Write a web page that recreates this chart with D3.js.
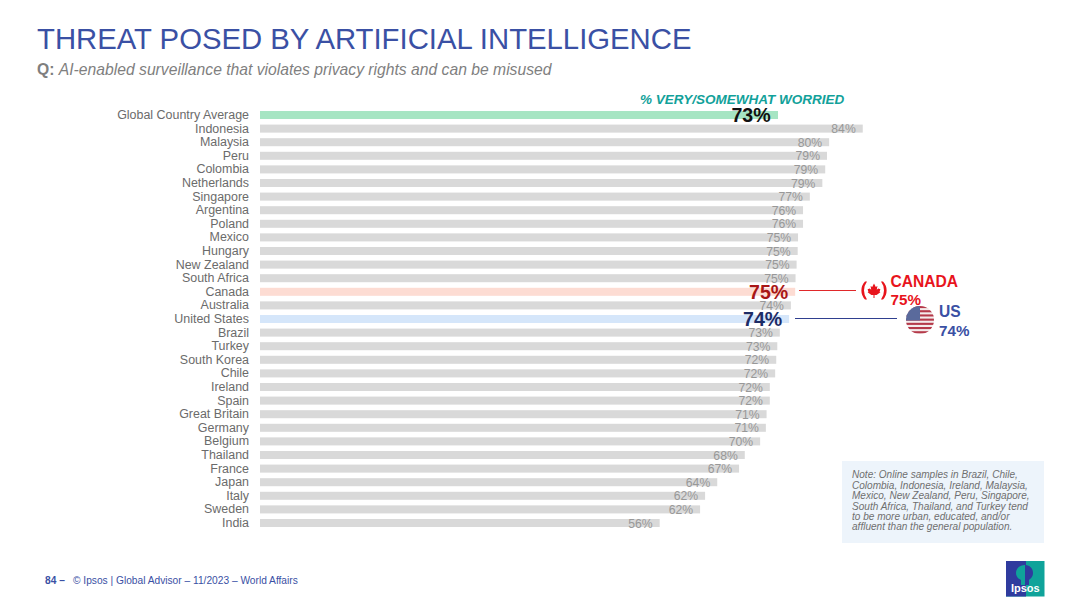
<!DOCTYPE html>
<html>
<head>
<meta charset="utf-8">
<script src="https://cdn.jsdelivr.net/npm/d3@7"></script>
<style>
  html, body { margin: 0; padding: 0; background: #fff; }
  svg { display: block; }
  text { font-family: "Liberation Sans", Arial, sans-serif; }
</style>
</head>
<body>
<svg id="chart" width="1080" height="607"></svg>
<script>
const countries = ["Global Country Average", "Indonesia", "Malaysia", "Peru", "Colombia", "Netherlands", "Singapore", "Argentina", "Poland", "Mexico", "Hungary", "New Zealand", "South Africa", "Canada", "Australia", "United States", "Brazil", "Turkey", "South Korea", "Chile", "Ireland", "Spain", "Great Britain", "Germany", "Belgium", "Thailand", "France", "Japan", "Italy", "Sweden", "India"];
// bar lengths, the printed labels are rounded differently
const worried = [72.45, 84.3, 79.6, 79.3, 79.05, 78.65, 76.9, 75.95, 75.95, 75.25, 75.2, 75.05, 74.9, 74.85, 74.25, 74.0, 72.7, 72.35, 72.2, 72.05, 71.3, 71.3, 70.85, 70.75, 69.95, 67.8, 67.0, 63.95, 62.25, 61.55, 55.9];
const printed = [73, 84, 80, 79, 79, 79, 77, 76, 76, 75, 75, 75, 75, 75, 74, 74, 73, 73, 72, 72, 72, 72, 71, 71, 70, 68, 67, 64, 62, 62, 56];
const noteLines = ["Note: Online samples in Brazil, Chile,", "Colombia, Indonesia, Ireland, Malaysia,", "Mexico, New Zealand, Peru, Singapore,", "South Africa, Thailand, and Turkey tend", "to be more urban, educated, and/or", "affluent than the general population."];

const svg = d3.select("#chart");
const blue = "#3a50a4";

const x = d3.scaleLinear().domain([0, 100]).range([260, 975]);
const y = d3.scaleBand().domain(countries).range([108.2, 529.8]).paddingInner(0.41).paddingOuter(0.205);

const barColor = {"Global Country Average": "#a6e5c3", "Canada": "#fddcd3", "United States": "#d5e6fa"};
const bigLabel = {"Global Country Average": "#111111", "Canada": "#a81616", "United States": "#1d2c66"};
const bigRight = {"Global Country Average": 770.7, "Canada": 788.3, "United States": 782.3};

function text(px, py, str, size, color, opts = {}) {
    return svg.append("text")
        .attr("x", px).attr("y", py)
        .attr("font-size", size)
        .attr("fill", color)
        .attr("font-weight", opts.weight || "normal")
        .attr("font-style", opts.style || "normal")
        .attr("text-anchor", opts.anchor || "start")
        .text(str);
}

// header
text(37, 49, "THREAT POSED BY ARTIFICIAL INTELLIGENCE", 29.3, blue);
const sub = text(37, 75, "", 15.7, "#7f7f7f");
sub.append("tspan").attr("font-weight", "bold").text("Q: ");
sub.append("tspan").attr("font-style", "italic").text("AI-enabled surveillance that violates privacy rights and can be misused");
text(640, 103.5, "% VERY/SOMEWHAT WORRIED", 13.5, "#12a19a", {weight: "bold", style: "italic"});

// bars
svg.selectAll("rect.bar")
    .data(countries)
    .join("rect")
    .attr("class", "bar")
    .attr("x", x(0))
    .attr("y", d => y(d))
    .attr("width", (d, i) => x(worried[i]) - x(0))
    .attr("height", y.bandwidth())
    .attr("fill", d => barColor[d] || "#d9d9d9");

// country names
const axis = svg.append("g")
    .attr("transform", "translate(249,0)")
    .call(d3.axisLeft(y).tickSize(0).tickPadding(0));
axis.select(".domain").remove();
axis.selectAll("text")
    .attr("font-size", 12.45)
    .attr("fill", "#6b6b6b")
    .style("font-family", '"Liberation Sans", Arial, sans-serif');

// value labels
svg.selectAll("text.val")
    .data(countries)
    .join("text")
    .attr("class", "val")
    .attr("text-anchor", "end")
    .attr("x", (d, i) => bigLabel[d] ? bigRight[d] : x(worried[i]) - 7)
    .attr("y", d => y(d) + y.bandwidth() / 2 + (bigLabel[d] ? 7 : 4.6))
    .attr("font-size", d => bigLabel[d] ? 19.6 : 12.2)
    .attr("font-weight", d => bigLabel[d] ? "bold" : "normal")
    .attr("fill", d => bigLabel[d] || "#989898")
    .text((d, i) => printed[i] + "%");

// canada callout
svg.append("line").attr("x1", 799).attr("x2", 856).attr("y1", 290.5).attr("y2", 290.5)
    .attr("stroke", "#e0282a").attr("stroke-width", 1.2);
const ca = svg.append("g").attr("transform", "translate(874,290.5)").attr("fill", "#e8141c");
ca.append("path").attr("d", "M-9,-9 A13,13 0 0 0 -9,9 L-7,9 A15,15 0 0 1 -7,-9 Z");
ca.append("path").attr("d", "M9,-9 A13,13 0 0 1 9,9 L7,9 A15,15 0 0 0 7,-9 Z");
ca.append("path").attr("d", "M0,-7 L1.8,-3.6 L3.4,-4.4 L2.8,-0.8 L4.2,-2 L6.4,-1.2 L5.6,1.2 L6.4,1.8 L2.6,4.6 L0.5,4.4 L0.5,7.4 L-0.5,7.4 L-0.5,4.4 L-2.6,4.6 L-6.4,1.8 L-5.6,1.2 L-6.4,-1.2 L-4.2,-2 L-2.8,-0.8 L-3.4,-4.4 L-1.8,-3.6 Z");
text(890.5, 287, "CANADA", 15.6, "#e8141c", {weight: "bold"});
text(890.5, 305, "75%", 15.2, "#e8141c", {weight: "bold"});

// us callout
svg.append("line").attr("x1", 795).attr("x2", 897).attr("y1", 318.5).attr("y2", 318.5)
    .attr("stroke", "#2f3f8f").attr("stroke-width", 1.2);
svg.append("clipPath").attr("id", "usClip").append("circle").attr("cx", 920).attr("cy", 320).attr("r", 14);
const us = svg.append("g").attr("clip-path", "url(#usClip)");
us.append("rect").attr("x", 906).attr("y", 306).attr("width", 28).attr("height", 28).attr("fill", "#f4ecec");
d3.range(7).forEach(i => {
    us.append("rect").attr("x", 906).attr("y", 306 + i * 4.2).attr("width", 28).attr("height", 2.1).attr("fill", "#b53a4a");
});
us.append("rect").attr("x", 906).attr("y", 306).attr("width", 14).attr("height", 14.5).attr("fill", "#5a6a9c");
text(939, 317, "US", 15.6, blue, {weight: "bold"});
text(939, 335.5, "74%", 15.2, blue, {weight: "bold"});

// note box
svg.append("rect").attr("x", 842).attr("y", 461).attr("width", 202).attr("height", 82).attr("fill", "#edf4fb");
noteLines.forEach((line, i) => {
    text(852, 478.3 + i * 10.4, line, 10.05, "#6f6f6f", {style: "italic"});
});

// footer
text(45, 584, "84 –", 10.2, blue, {weight: "bold"});
text(73, 584, "© Ipsos | Global Advisor – 11/2023 – World Affairs", 10.2, blue);

// logo
const logo = svg.append("g");
logo.append("rect").attr("x", 1006).attr("y", 561).attr("width", 38.5).attr("height", 35.5).attr("fill", "#0fa39a");
logo.append("rect").attr("x", 1006).attr("y", 561).attr("width", 20).attr("height", 35.5).attr("fill", "#2f3b9e");
logo.append("path").attr("d", "M1025,565 C1019,565 1016,569 1016,573 C1016,577 1019,579 1021,580 L1021,585 L1025,585 Z").attr("fill", "#0fa39a");
logo.append("path").attr("d", "M1026,565 C1031,566 1033,569 1033,573 C1033,577 1030,579 1029,580 L1029,585 L1026,585 Z").attr("fill", "#2f3b9e");
text(1025.3, 592, "Ipsos", 11, "#ffffff", {weight: "bold", anchor: "middle"});
</script>
</body>
</html>
